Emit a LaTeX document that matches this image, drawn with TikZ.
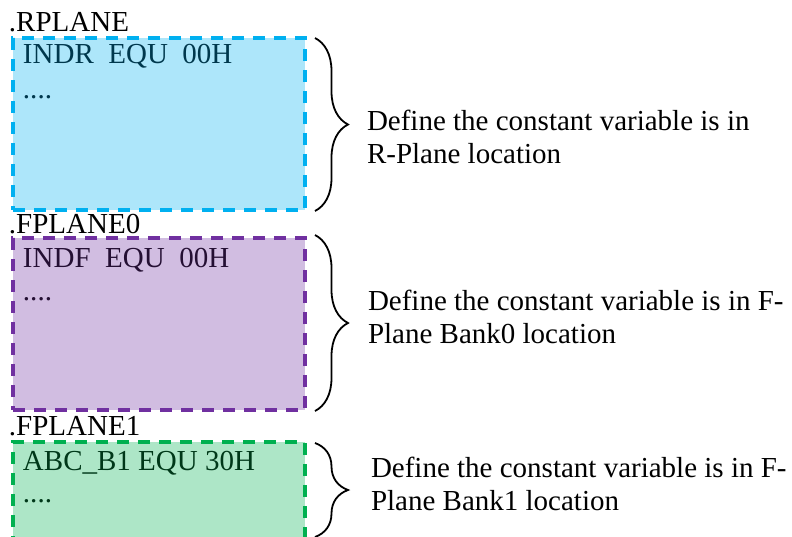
\documentclass[tikz,border=0pt]{standalone}
\usepackage{fontspec}
\setmainfont{Liberation Serif}
\usetikzlibrary{decorations.pathreplacing}
\definecolor{cblue}{HTML}{00B0F0}
\definecolor{cpurple}{HTML}{7030A0}
\definecolor{cgreen}{HTML}{00B050}
\begin{document}
\begin{tikzpicture}[x=1pt,y=1pt,
  every node/.style={inner sep=0pt,outer sep=0pt,font=\fontsize{29}{33}\selectfont},
  planebox/.style={rectangle,line width=3.2pt,dash pattern=on 12pt off 9pt,anchor=north west,minimum width=292pt,minimum height=172pt},
  lbl/.style={anchor=base west},
  brc/.style={decorate,decoration={brace,amplitude=33pt},line width=1.8pt}]
\clip (0,0) rectangle (792,-536);
% titles
\node[lbl] (t1) at (9,-31) {.RPLANE};
\node[lbl] (t2) at (9,-233) {.FPLANE0};
\node[lbl] (t3) at (9,-435) {.FPLANE1};
% boxes
\node[planebox,draw=cblue,fill=cblue!32!white] (b1) at (13,-38) {};
\node[planebox,draw=cpurple,fill=cpurple!32!white] (b2) at (13,-238) {};
\node[planebox,draw=cgreen,fill=cgreen!32!white,minimum height=120pt] (b3) at (13,-442) {};
% box contents
\node[lbl,text=cblue!32!black] (c1) at (23,-63) {INDR\ \ EQU\ \ 00H};
\node[lbl,text=cblue!32!black] (d1) at (23,-98) {....};
\node[lbl,text=cpurple!32!black] (c2) at (23,-267) {INDF\ \ EQU\ \ 00H};
\node[lbl,text=cpurple!32!black] (d2) at (23,-300) {....};
\node[lbl,text=cgreen!32!black] (c3) at (23,-470) {ABC\_B1 EQU 30H};
\node[lbl,text=cgreen!32!black] (d3) at (23,-502) {....};
% braces
\coordinate (r1a) at (315,-38); \coordinate (r1b) at (315,-211);
\coordinate (r2a) at (315,-235); \coordinate (r2b) at (315,-411);
\coordinate (r3a) at (315,-443); \coordinate (r3b) at (315,-537);
\draw[brc] (r1a) -- (r1b);
\draw[brc] (r2a) -- (r2b);
\draw[brc] (r3a) -- (r3b);
% descriptions
\node[lbl] (e1a) at (367,-130) {Define the constant variable is in};
\node[lbl] (e1b) at (367,-163) {R-Plane location};
\node[lbl] (e2a) at (368,-310) {Define the constant variable is in F-};
\node[lbl] (e2b) at (368,-343) {Plane Bank0 location};
\node[lbl] (e3a) at (371,-477) {Define the constant variable is in F-};
\node[lbl] (e3b) at (371,-510) {Plane Bank1 location};
\end{tikzpicture}
\end{document}
